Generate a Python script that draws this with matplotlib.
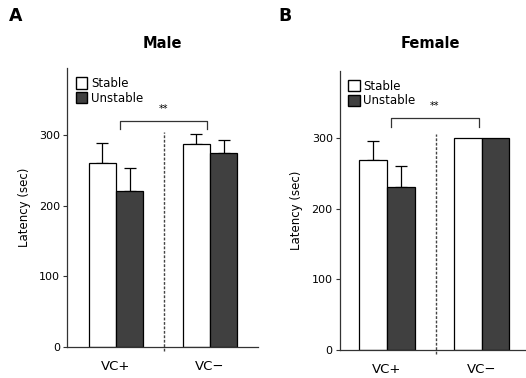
import matplotlib.pyplot as plt
import matplotlib.patches as mpatches

groups = ["VC+", "VC\u2212"]
male_stable = [261, 287]
male_stable_err = [28, 14]
male_unstable = [221, 275]
male_unstable_err = [32, 18]
female_stable = [268, 300]
female_stable_err = [27, 0]
female_unstable = [231, 300]
female_unstable_err = [29, 0]

DARK = '#404040'
AXC = '#333333'

fig = plt.figure(figsize=(5.26, 3.78), dpi=100)


def panel(rect, xlim, stable, s_err, unstable, u_err, title, title_xy, letter, letter_xy,
          bracket_y, divider_x, width):
    ax = fig.add_axes(rect)
    x = [0, 1]
    xs = [i - width / 2 for i in x]
    xu = [i + width / 2 for i in x]
    ax.bar(xs, stable, width, color='white', edgecolor='black', linewidth=0.9, zorder=2)
    ax.bar(xu, unstable, width, color=DARK, edgecolor='black', linewidth=0.9, zorder=2)
    for xx, v, e in list(zip(xs, stable, s_err)) + list(zip(xu, unstable, u_err)):
        if e > 0:
            ax.errorbar(xx, v, yerr=[[0], [e]], fmt='none', ecolor='black',
                        elinewidth=0.9, capsize=4, capthick=0.9, zorder=1)
    ax.set_xlim(*xlim)
    ax.set_ylim(0, 395)
    ax.set_yticks([0, 100, 200, 300])
    ax.set_xticks(x)
    ax.set_xticklabels(groups, fontsize=9.5)
    ax.tick_params(axis='x', length=0, pad=9, colors='black')
    ax.tick_params(axis='y', labelsize=8, length=3, width=0.8, color=AXC, pad=2)
    for s in ['top', 'right']:
        ax.spines[s].set_visible(False)
    for s in ['left', 'bottom']:
        ax.spines[s].set_color(AXC)
        ax.spines[s].set_linewidth(0.9)
    ax.set_ylabel("Latency (sec)", fontsize=8.5, labelpad=6)
    ax.plot([divider_x, divider_x], [-6, 305], linestyle=(0, (2, 1.2)), color='#444444',
            linewidth=1.0, clip_on=False)
    # significance bracket
    bl = 0 + 0.04
    br = 1 - 0.03
    ax.plot([bl, bl, br, br], [bracket_y - 12, bracket_y, bracket_y, bracket_y - 12],
            color='#333333', linewidth=0.9)
    ax.text((bl + br) / 2, bracket_y + 10, "**", ha='center', va='bottom', fontsize=7)
    handles = [mpatches.Patch(facecolor='white', edgecolor='black', label='Stable'),
               mpatches.Patch(facecolor=DARK, edgecolor='black', label='Unstable')]
    ax.legend(handles=handles, loc='upper left', bbox_to_anchor=(0.02, 0.985),
              frameon=False, fontsize=8.5, handlelength=1.0, handleheight=1.1,
              handletextpad=0.3, labelspacing=0.15, borderaxespad=0)
    fig.text(title_xy[0], title_xy[1], title, fontsize=10.5, fontweight='bold',
             ha='center', va='center')
    fig.text(letter_xy[0], letter_xy[1], letter, fontsize=12.5, fontweight='bold',
             ha='left', va='center')
    return ax


panel([0.1274, 0.082, 0.363, 0.738], (-0.521, 1.511), male_stable, male_stable_err,
      male_unstable, male_unstable_err, "Male", (0.308, 0.884), "A", (0.017, 0.958),
      320, 0.507, 0.29)
panel([0.6458, 0.074, 0.354, 0.739], (-0.498, 1.463), female_stable, female_stable_err,
      female_unstable, female_unstable_err, "Female", (0.819, 0.884), "B", (0.53, 0.958),
      328, 0.516, 0.29)

fig.savefig("out.png", dpi=100)
